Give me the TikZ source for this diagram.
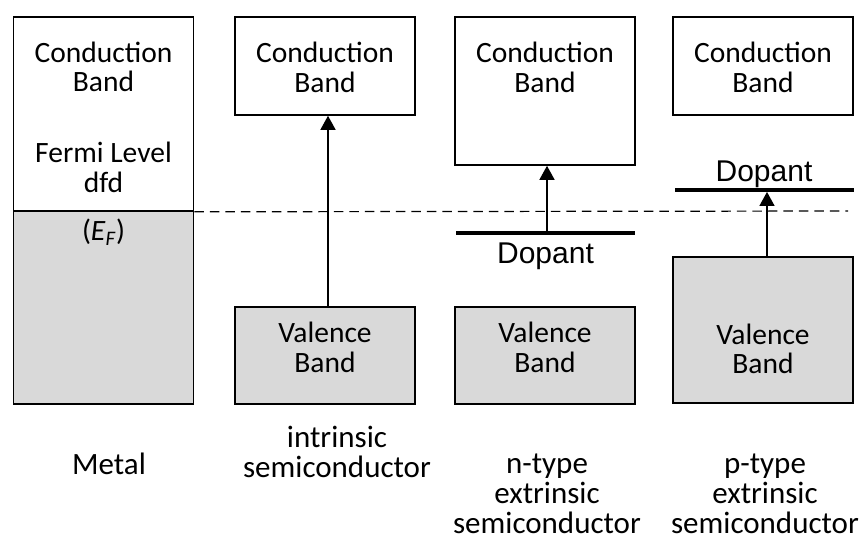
\documentclass[tikz,border=0pt]{standalone}
\usepackage{fontspec}
\setmainfont{Carlito}
\newfontfamily\dopantfont{Liberation Sans}
\usetikzlibrary{arrows.meta,positioning}
\definecolor{bandgrey}{HTML}{D9D9D9}

\begin{document}
\begin{tikzpicture}[x=1pt,y=-1pt]
\tikzstyle{band}=[rectangle, draw=black, line width=1.6pt, minimum width=180pt, inner sep=0pt]
\tikzstyle{conduction}=[band, fill=white]
\tikzstyle{valence}=[band, fill=bandgrey]
\tikzstyle{txt}=[align=center, inner sep=0pt, font=\fontsize{29.5}{29.5}\selectfont]
\tikzstyle{caption}=[align=center, inner sep=0pt, font=\fontsize{31}{30}\selectfont]
\tikzstyle{dopant}=[rectangle, fill=black, minimum width=179pt, minimum height=3.5pt, inner sep=0pt]
\tikzstyle{dopanttxt}=[inner sep=0pt, font=\dopantfont\fontsize{30}{30}\selectfont]
\tikzstyle{excite}=[-{Triangle[length=14pt,width=15pt]}, line width=1.5pt]
\tikzstyle{fermi}=[dash pattern=on 9.5pt off 6pt, line width=1.2pt]
\useasboundingbox (0,0) rectangle (860,541);

	% metal
	\node[valence, minimum height=193pt, label={[txt,yshift=75.5pt]center:{(\textit{E}\textsubscript{\textit{F}})}}] (mvb) at (103.5,307.5) {};
	\node[conduction, minimum height=194pt, label={[txt,yshift=-3.3pt]center:{Conduction\\Band\\[41.5pt]Fermi Level\\dfd}}] (mcb) at (103.5,114) {};
	\coordinate (fermiend) at (848,211);
	\draw[fermi] (mcb.south east) -- (fermiend);

	% intrinsic
	\node[conduction, minimum height=98pt, label={[txt,yshift=-1.5pt]center:{Conduction\\Band}}] (icb) at (325,66) {};
	\node[valence, minimum height=97pt, label={[txt,yshift=8pt]center:{Valence\\Band}}] (ivb) at (325,355.5) {};

	% n-type
	\node[conduction, minimum height=148pt, label={[txt,yshift=23.5pt]center:{Conduction\\Band}}] (ncb) at (545,91) {};
	\node[dopant, label={[dopanttxt,label distance=7.25pt]below:{Dopant}}] (ndop) at (545.5,233) {};
	\node[valence, minimum height=97pt, label={[txt,yshift=8pt]center:{Valence\\Band}}] (nvb) at (545,355.5) {};

	% p-type
	\node[conduction, minimum height=98pt, label={[txt,yshift=-1.5pt]center:{Conduction\\Band}}] (pcb) at (763,66) {};
	\node[dopant, label={[dopanttxt,label distance=0pt]above:{Dopant}}] (pdop) at (764,190) {};
	\node[valence, minimum height=146pt, label={[txt,yshift=-19pt]center:{Valence\\Band}}] (pvb) at (763,330) {};

	\path
		([xshift=3pt]ivb.north) edge [excite] ([xshift=3pt]icb.south)
		([xshift=1.5pt]ndop.north) edge [excite] ([xshift=2pt]ncb.south)
		([xshift=4pt]pvb.north) edge [excite] ([xshift=3pt]pdop.south);

	% captions
	\node[caption] (metal) at (109,464) {Metal};
	\node[caption] (intr) at (337,451.5) {intrinsic\\semiconductor};
	\node[caption] (ntype) at (547,494) {n-type\\extrinsic\\semiconductor};
	\node[caption] (ptype) at (765,494) {p-type\\extrinsic\\semiconductor};
\end{tikzpicture}
\end{document}
